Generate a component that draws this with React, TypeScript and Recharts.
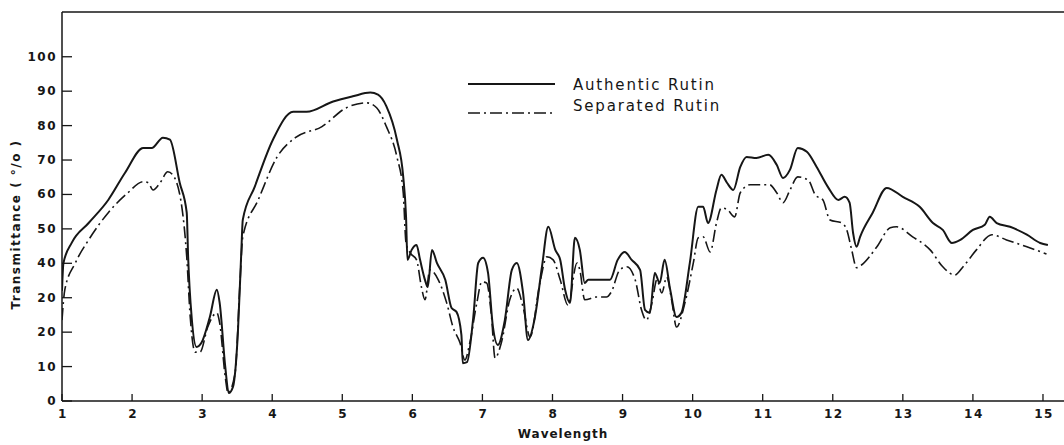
import React from 'react';
import { LineChart, Line, XAxis, YAxis, ReferenceLine, Label } from 'recharts';

// wavelength (µm) / transmittance (%)
const authenticWavelength = [
  1.0, 1.02, 1.14, 1.38, 1.66, 1.9, 2.16, 2.28, 2.44, 2.54,
  2.68, 2.78, 2.8, 2.85, 2.92, 2.99, 3.11, 3.21, 3.25, 3.33,
  3.38, 3.44, 3.51, 3.56, 3.58, 3.75, 4.01, 4.3, 4.49, 4.87,
  5.15, 5.4, 5.51, 5.63, 5.78, 5.87, 5.91, 5.93, 5.99, 6.06,
  6.11, 6.18, 6.22, 6.28, 6.35, 6.47, 6.56, 6.63, 6.7, 6.72,
  6.78, 6.87, 6.94, 7.01, 7.08, 7.15, 7.22, 7.32, 7.42, 7.49,
  7.58, 7.65, 7.75, 7.85, 7.94, 8.04, 8.11, 8.18, 8.25, 8.32,
  8.39, 8.46, 8.51, 8.63, 8.82, 8.93, 9.03, 9.13, 9.25, 9.32,
  9.39, 9.46, 9.53, 9.6, 9.68, 9.77, 9.84, 9.96, 10.08, 10.15,
  10.22, 10.34, 10.41, 10.49, 10.58, 10.68, 10.77, 10.91, 11.08, 11.2,
  11.29, 11.39, 11.5, 11.63, 11.77, 11.93, 12.08, 12.17, 12.24, 12.29,
  12.34, 12.39, 12.57, 12.77, 13.0, 13.24, 13.43, 13.57, 13.7, 13.82,
  14.0, 14.17, 14.24, 14.34, 14.53, 14.77, 14.96, 15.07,
];
const authenticT = [
  32, 40, 46, 51.7, 58.4, 66.3, 73.5, 73.5, 76.5, 75.9,
  63.4, 54.7, 41.9, 24.4, 15.7, 16.9, 24.4, 32.3, 28.5, 9.9,
  2.3, 4.1, 19.8, 43.9, 52.6, 62.2, 75.9, 84, 84, 87,
  88.5, 89.6, 89, 85.6, 75.9, 65.1, 53.5, 41, 43.9, 45.3,
  41, 35.2, 33.1, 43.9, 40.1, 35.2, 27, 25.9, 19.2, 11,
  11.3, 24.4, 40.1, 41.6, 37.2, 21.5, 16.3, 23.5, 38.1, 40.1,
  31.4, 17.7, 24.4, 39, 50.6, 43.9, 41, 32.3, 28.5, 47.4,
  43.9, 34.3, 35.2, 35.2, 35.2, 41, 43.3, 41, 38.1, 26.5,
  25.6, 37.2, 34.3, 41, 32.3, 24.4, 25.6, 40.1, 56.4, 56.4,
  51.7, 61.3, 65.7, 63.4, 61.3, 68, 70.9, 70.6, 71.5, 68.6,
  64.8, 67.2, 73.5, 72.4, 68, 62.2, 58.4, 59.3, 57.6, 48.8,
  44.8, 47.7, 54.7, 61.9, 59.3, 56.4, 51.7, 49.7, 45.9, 46.8,
  49.7, 51.2, 53.5, 51.7, 50.6, 48.3, 45.9, 45.3,
];

const separatedWavelength = [
  1.0, 1.04, 1.19, 1.38, 1.66, 1.94, 2.16, 2.23, 2.3, 2.4,
  2.51, 2.58, 2.71, 2.78, 2.83, 2.9, 2.97, 3.08, 3.21, 3.25,
  3.33, 3.37, 3.47, 3.54, 3.58, 3.8, 4.07, 4.33, 4.71, 5.06,
  5.35, 5.49, 5.63, 5.78, 5.87, 5.91, 5.97, 6.06, 6.13, 6.18,
  6.25, 6.37, 6.49, 6.58, 6.68, 6.75, 6.82, 6.92, 6.99, 7.06,
  7.13, 7.18, 7.27, 7.39, 7.49, 7.58, 7.68, 7.82, 7.92, 8.01,
  8.11, 8.22, 8.35, 8.39, 8.46, 8.63, 8.77, 8.84, 8.96, 9.06,
  9.18, 9.27, 9.34, 9.42, 9.49, 9.56, 9.63, 9.7, 9.77, 9.89,
  10.01, 10.08, 10.15, 10.25, 10.34, 10.41, 10.5, 10.6, 10.68, 10.82,
  10.96, 11.1, 11.2, 11.29, 11.39, 11.5, 11.65, 11.75, 11.86, 11.96,
  12.13, 12.2, 12.27, 12.34, 12.41, 12.63, 12.82, 12.91, 13.14, 13.39,
  13.57, 13.74, 13.86, 14.05, 14.27, 14.48, 14.77, 15.05,
];
const separatedT = [
  23.5, 32.3, 40.1, 46.8, 54.7, 60.5, 63.7, 63.4, 61.3, 63.4,
  66.6, 65.7, 56.4, 41.9, 24.4, 14.2, 14.2, 21.5, 25.6, 22.7,
  7, 2.3, 8.1, 34.3, 47.7, 58.4, 70.9, 76.5, 79.7, 85.2,
  86.6, 85.2, 79.7, 70.9, 60.5, 45.9, 43, 41, 33.1, 29.4,
  38.1, 35.2, 28.5, 21.5, 16.9, 11.9, 16.9, 28.5, 34.6, 34.3,
  24.4, 12.5, 16.9, 29.4, 32.8, 27.3, 18.6, 34.3, 41.9, 41,
  35.2, 27.9, 40.1, 38.1, 29.4, 30.2, 30.2, 31.7, 38.1, 39,
  35.2, 26.5, 23.5, 28.5, 35.2, 31.4, 36, 29.4, 21.5, 28.5,
  40.1, 47.4, 47.7, 43.3, 51.7, 56.1, 55.5, 53.5, 60.5, 62.8,
  62.8, 62.8, 60.5, 57.6, 61.3, 65.1, 64.2, 59.9, 58.4, 52.6,
  51.7, 49.7, 43.9, 38.7, 39.5, 44.8, 50.3, 50.6, 47.7, 43.9,
  39, 36.6, 39, 43.9, 48.3, 46.8, 44.8, 42.7,
];

const seriesNames = ['Authentic Rutin', 'Separated Rutin'];
const xTicks = [1, 2, 3, 4, 5, 6, 7, 8, 9, 10, 11, 12, 13, 14, 15];
const yTicks = [0, 10, 20, 30, 40, 50, 60, 70, 80, 90, 100];
// labels as printed in the original figure
const yTickLabels = ['0', '10', '20', '20', '40', '50', '60', '70', '80', '90', '100'];
const xMax = 15.3;
const yMax = 113;

const authentic = authenticWavelength.map((w, i) => ({ w, t: authenticT[i] }));
const separated = separatedWavelength.map((w, i) => ({ w, t: separatedT[i] }));

const ink = '#161616';
const dashDot = '12 4 2 4';
const tickFont = { fontFamily: 'DejaVu Sans', fontSize: 12, fontWeight: 700, letterSpacing: 1.5 };

const YTick = (props: any) => {
  const { x, y, index } = props;
  return (
    <g>
      <line x1={x + 4} x2={x + 14} y1={y} y2={y} stroke={ink} strokeWidth={1.3} />
      <text x={x - 1} y={y} dy={4} textAnchor="end" fill={ink} style={tickFont}>
        {yTickLabels[index]}
      </text>
    </g>
  );
};

const XTick = (props: any) => {
  const { x, y, payload } = props;
  return (
    <g>
      <line x1={x} x2={x} y1={y - 4} y2={y - 11} stroke={ink} strokeWidth={1.3} />
      <text x={x + 1} y={y} dy={13} textAnchor="middle" fill={ink} style={tickFont}>
        {payload.value}
      </text>
    </g>
  );
};

// legend kept outside the chart so it does not shrink the plot area
const ChartLegend = () => (
  <div
    style={{
      position: 'absolute',
      left: 466,
      top: 74,
      fontFamily: 'DejaVu Sans',
      fontSize: 15,
      letterSpacing: 1.8,
      color: ink,
    }}
  >
    {seriesNames.map((name, i) => (
      <div key={name} style={{ display: 'flex', alignItems: 'center', height: 21 }}>
        <svg width={92} height={21}>
          <line
            x1={2}
            x2={89}
            y1={i === 0 ? 10 : 18}
            y2={i === 0 ? 10 : 18}
            stroke={ink}
            strokeWidth={i === 0 ? 2 : 1.6}
            strokeDasharray={i === 0 ? undefined : dashDot}
          />
        </svg>
        <span style={{ marginLeft: 15 }}>{name}</span>
      </div>
    ))}
  </div>
);

const App: React.FC = () => {
  return (
    <div style={{ position: 'absolute', left: 0, top: 0, width: 1064, height: 445, background: '#fff' }}>
      <LineChart width={1064} height={445} margin={{ top: 12, right: 0, bottom: 0, left: 0 }}>
        <XAxis
          dataKey="w"
          type="number"
          domain={[1, xMax]}
          ticks={xTicks}
          allowDataOverflow
          height={44}
          tickSize={0}
          tickMargin={4}
          tick={<XTick />}
          axisLine={{ stroke: ink, strokeWidth: 1.5 }}
        >
          <Label
            value="Wavelength"
            position="insideBottom"
            offset={7}
            fill={ink}
            style={{ fontFamily: 'DejaVu Sans', fontSize: 12, fontWeight: 700, letterSpacing: 1 }}
          />
        </XAxis>
        <YAxis
          type="number"
          domain={[0, yMax]}
          ticks={yTicks}
          allowDataOverflow
          width={62}
          tickSize={0}
          tickMargin={4}
          tick={<YTick />}
          axisLine={{ stroke: ink, strokeWidth: 1.5 }}
        >
          <Label
            content={({ viewBox }: any) => {
              const cy = viewBox.y + viewBox.height / 2 + 18;
              return (
                <text
                  x={20}
                  y={cy}
                  transform={`rotate(-90, 20, ${cy})`}
                  textAnchor="middle"
                  fill={ink}
                  style={{ fontFamily: 'DejaVu Sans', fontSize: 12, fontWeight: 700, letterSpacing: 1.5 }}
                >
                  Transmittance  ( °/o )
                </text>
              );
            }}
          />
        </YAxis>
        <ReferenceLine y={yMax} stroke={ink} strokeWidth={1.5} />
        <Line
          data={authentic}
          dataKey="t"
          name={seriesNames[0]}
          type="monotone"
          stroke={ink}
          strokeWidth={2}
          dot={false}
          isAnimationActive={false}
        />
        <Line
          data={separated}
          dataKey="t"
          name={seriesNames[1]}
          type="monotone"
          stroke={ink}
          strokeWidth={1.6}
          strokeDasharray={dashDot}
          dot={false}
          isAnimationActive={false}
        />
      </LineChart>
      <ChartLegend />
    </div>
  );
};

export default App;
